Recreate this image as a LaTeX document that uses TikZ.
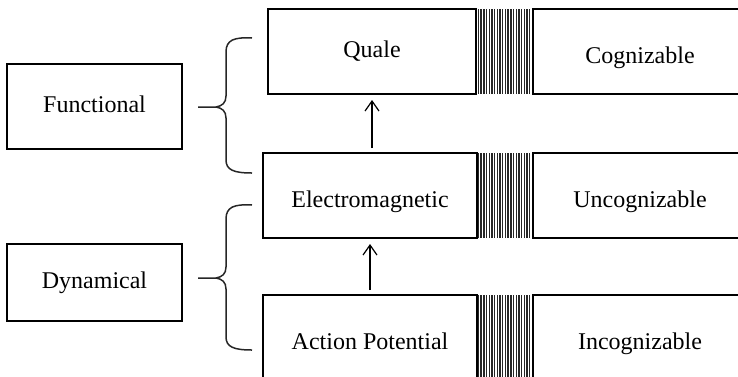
\documentclass[tikz,border=0pt]{standalone}
\usepackage{fontspec}
\setmainfont{Liberation Serif}
\usetikzlibrary{arrows.meta,positioning}

\begin{document}
\begin{tikzpicture}[
    x=0.5pt, y=-0.5pt,
    font=\fontsize{12pt}{14pt}\selectfont,
    box/.style={rectangle, draw, line width=0.75pt, outer sep=0pt, minimum height=42.5pt,
        text height=8.5pt, text depth=2.5pt, align=center},
    low/.style={text height=14pt},
    hatch/.style={rectangle, outer sep=0pt, inner sep=0pt, minimum width=27.5pt, minimum height=42.5pt,
        path picture={
            \foreach \i in {0,...,19}
                \draw[line width=0.7pt, black!85]
                    ([xshift=0.7pt+\i*1.35pt]path picture bounding box.south west) --
                    ([xshift=0.7pt+\i*1.35pt]path picture bounding box.north west);
        }},
    brace/.style={line width=0.75pt, black!85},
    arrow/.style={->, >={Straight Barb[length=5pt, width=7pt, line width=0.6pt]}, line width=0.6pt,
        shorten <=2.5pt, shorten >=3pt}
]
\clip (0,0) rectangle (738,376);

% left column
\node[box, minimum width=87.5pt] (functional) at (94.5,106.5) {Functional};
\node[box, minimum width=87.5pt, minimum height=38.5pt] (dynamical) at (94.5,282.5) {Dynamical};

% middle column
\node[box, minimum width=104pt] (quale) at (372,51.5) {Quale};
\node[box, low, minimum width=107pt] (electro) at (370,195.5) {Electromagnetic};
\node[box, low, minimum width=107pt] (action) at (370,337.5) {Action Potential};

% hatched separators
\node[hatch, right=0.5pt of quale] (qhatch) {};
\node[hatch, right=0pt of electro] (ehatch) {};
\node[hatch, right=0pt of action] (ahatch) {};

% right column
\node[box, low, minimum width=107pt, right=0.5pt of qhatch] (cogn) {Cognizable};
\node[box, low, minimum width=107pt, right=0.5pt of ehatch] (uncogn) {Uncognizable};
\node[box, low, minimum width=107pt, right=0.5pt of ahatch] (incogn) {Incognizable};

% braces
\draw[brace] (252,38) .. controls (234,37) and (226,40) .. (226,52) -- (226,96)
    .. controls (226,103) and (222,106) .. (216,107) -- (198,107) -- (216,107)
    .. controls (222,108) and (226,111) .. (226,118) -- (226,160)
    .. controls (226,170) and (234,173) .. (252,173);
\draw[brace] (252,205) .. controls (234,204) and (226,207) .. (226,219) -- (226,267)
    .. controls (226,274) and (222,277) .. (216,278) -- (198,278) -- (216,278)
    .. controls (222,279) and (226,282) .. (226,289) -- (226,337)
    .. controls (226,347) and (234,350) .. (252,350);

% arrows
\draw[arrow] ([xshift=1pt]electro.north) -- ([xshift=1pt]electro.north |- quale.south);
\draw[arrow] (action.north) -- (electro.south);

\end{tikzpicture}
\end{document}
